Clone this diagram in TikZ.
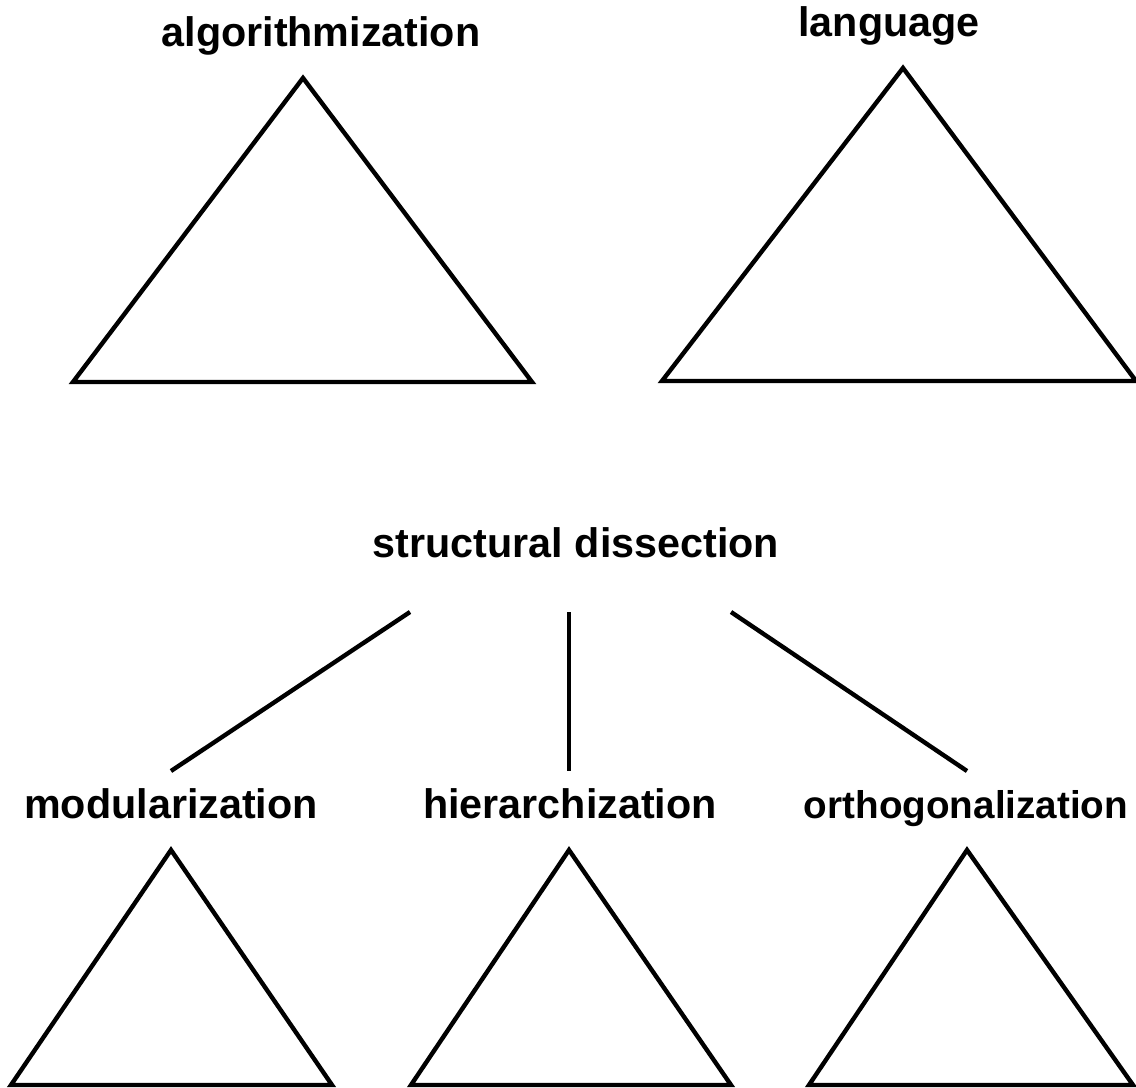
\documentclass[tikz,border=0pt]{standalone}
\usepackage{fontspec}
\setmainfont{Liberation Sans}
\usepackage{tikz}
\usetikzlibrary{positioning}
\tikzset{concept/.style={font=\bfseries\fontsize{23.5}{28}\selectfont, anchor=base, inner sep=0pt}}
\tikzset{tri/.style={line width=2.5pt, line join=miter}}
\tikzset{branch/.style={line width=2.5pt}}

\begin{document}
\begin{tikzpicture}[x=0.02cm, y=-0.02cm]
{
\useasboundingbox (0,0) rectangle (1136,1088);
%\draw (0,0) rectangle (1136,1088);
\node[concept] (alg) at (321,47) {algorithmization};
\node[concept] (lang) at (889,37) {language};
\node[concept] (sd) at (576,557) {structural dissection};
\node[concept] (mod) at (171,818) {modularization};
\node[concept] (hier) at (570,818) {hierarchization};
\node[concept, font=\bfseries\fontsize{22}{26}\selectfont] (orth) at (966,818) {orthogonalization};
\coordinate (sdl) at (410,612);
\coordinate (sdm) at (569,612);
\coordinate (sdr) at (731,612);
\coordinate (modt) at (171,771);
\coordinate (hiert) at (569,771);
\coordinate (ortht) at (967,771);
\draw[branch] (sdl) -- (modt);
\draw[branch] (sdm) -- (hiert);
\draw[branch] (sdr) -- (ortht);
\draw[tri] (303,78) -- (532,382) -- (73,382) -- cycle;
\draw[tri] (903,68) -- (1136,381) -- (662,381) -- cycle;
\draw[tri] (171,850) -- (332,1085) -- (11,1085) -- cycle;
\draw[tri] (569,850) -- (731,1085) -- (411,1085) -- cycle;
\draw[tri] (967,850) -- (1133,1085) -- (809,1085) -- cycle;
}
\end{tikzpicture}
\end{document}
